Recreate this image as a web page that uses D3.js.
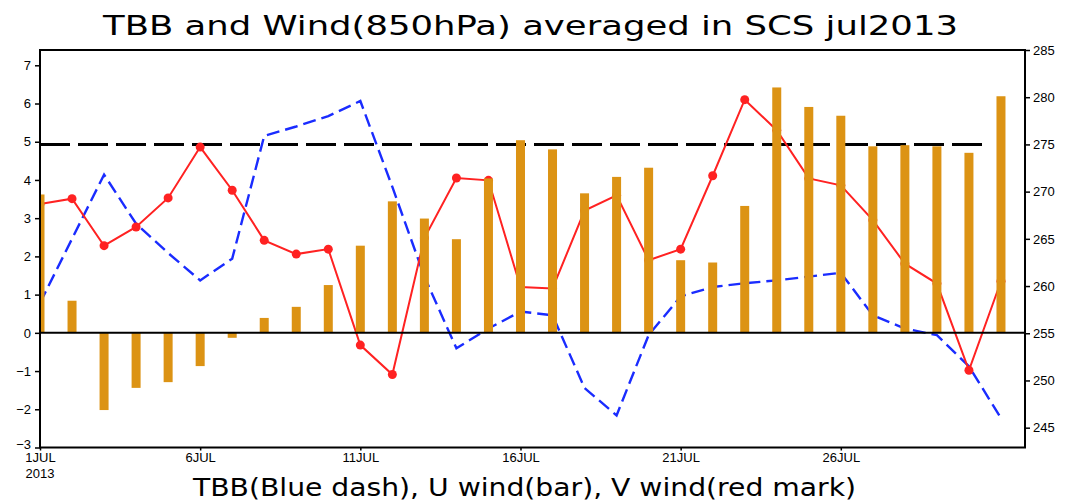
<!DOCTYPE html>
<html>
<head>
<meta charset="utf-8">
<script src="https://cdn.jsdelivr.net/npm/d3@7"></script>
<style>
  body { margin: 0; background: #fff; }
  svg { display: block; }
  .tick text { font-family: "Liberation Sans", Arial, sans-serif; font-size: 13px; fill: #000; }
  .tick line { stroke: #000; stroke-width: 1.5; }
  .domain { display: none; }
</style>
</head>
<body>
<svg width="1069" height="503"></svg>
<script>
// days of July 2013
var days = [1,2,3,4,5,6,7,8,9,10,11,12,13,14,15,16,17,18,19,20,21,22,23,24,25,26,27,28,29,30,31];
// U wind (bars), m/s, left axis
var uWind = [3.62,0.84,-2.02,-1.44,-1.29,-0.87,-0.13,0.39,0.68,1.25,2.28,3.44,2.99,2.45,4.04,5.04,
             4.80,3.65,4.08,4.32,1.90,1.84,3.32,6.42,5.91,5.68,4.88,4.91,4.88,4.71,6.19];
// V wind (red marks), m/s, left axis
var vWind = [3.37,3.51,2.28,2.77,3.53,4.86,3.73,2.42,2.06,2.19,-0.32,-1.09,2.48,4.05,3.99,1.20,
             1.16,3.20,3.60,1.90,2.19,4.11,6.10,5.30,4.04,3.86,2.95,1.81,1.29,-0.98,1.35];
// TBB (blue dash), K, right axis
var tbb = [258.2,265.0,271.8,266.6,263.5,260.6,262.9,275.9,276.9,278.0,279.6,270.5,261.0,253.4,255.5,
           257.3,256.9,249.2,246.3,254.8,258.9,259.9,260.3,260.6,261.0,261.4,256.9,255.5,254.8,251.5,246.0];
var tbbLimit = 275;

var leftTicks = [-3,-2,-1,0,1,2,3,4,5,6,7];
var rightTicks = [245,250,255,260,265,270,275,280,285];
var xTicks = [1,6,11,16,21,26];
var xTickLabels = ["1JUL","6JUL","11JUL","16JUL","21JUL","26JUL"];

var svg = d3.select("svg");
var pLeft = 40, pRight = 1025, pTop = 50, pBottom = 447.5;

var x = d3.scaleLinear().domain([1, 31.75]).range([pLeft, pRight]);
var yL = d3.scaleLinear().domain([-3, 7.4]).range([pBottom, pTop]);
var yR = d3.scaleLinear().domain([242.9, 285]).range([pBottom, pTop]);

svg.append("clipPath").attr("id", "plot")
  .append("rect").attr("x", pLeft).attr("y", pTop)
  .attr("width", pRight - pLeft).attr("height", pBottom - pTop);

var g = svg.append("g").attr("clip-path", "url(#plot)");

// threshold line
g.append("line")
  .attr("x1", pLeft).attr("x2", 987)
  .attr("y1", yR(tbbLimit)).attr("y2", yR(tbbLimit))
  .attr("stroke", "#000").attr("stroke-width", 3)
  .attr("stroke-dasharray", "30,8");

// TBB dashed blue
var tbbLine = d3.line()
  .x(function(d, i) { return x(days[i]); })
  .y(function(d) { return yR(d); });
g.append("path").datum(tbb)
  .attr("d", tbbLine)
  .attr("fill", "none").attr("stroke", "#1a2cff")
  .attr("stroke-width", 2.4).attr("stroke-dasharray", "13,6");

// V wind red line + marks
var vLine = d3.line()
  .x(function(d, i) { return x(days[i]); })
  .y(function(d) { return yL(d); });
g.append("path").datum(vWind)
  .attr("d", vLine)
  .attr("fill", "none").attr("stroke", "#ff2222").attr("stroke-width", 2);
g.selectAll(".vmark").data(vWind).enter().append("circle")
  .attr("class", "vmark")
  .attr("cx", function(d, i) { return x(days[i]); })
  .attr("cy", function(d) { return yL(d); })
  .attr("r", 4.5).attr("fill", "#ff2222");

// U wind bars
var bw = 9;
g.selectAll(".ubar").data(uWind).enter().append("rect")
  .attr("class", "ubar")
  .attr("x", function(d, i) { return x(days[i]) - bw / 2; })
  .attr("y", function(d) { return d >= 0 ? yL(d) : yL(0); })
  .attr("width", bw)
  .attr("height", function(d) { return Math.abs(yL(d) - yL(0)); })
  .attr("fill", "#dc9314");

// zero line
svg.append("line")
  .attr("x1", pLeft).attr("x2", pRight)
  .attr("y1", yL(0)).attr("y2", yL(0))
  .attr("stroke", "#000").attr("stroke-width", 2);

// frame
svg.append("rect")
  .attr("x", pLeft).attr("y", pTop)
  .attr("width", pRight - pLeft).attr("height", pBottom - pTop)
  .attr("fill", "none").attr("stroke", "#000").attr("stroke-width", 2);

// axes
var ya = svg.append("g").attr("transform", "translate(" + pLeft + ",0)")
  .call(d3.axisLeft(yL).tickValues(leftTicks).tickSize(5).tickPadding(4).tickFormat(d3.format("d")));
// lift the bottom label a bit so it clears 1JUL
ya.selectAll(".tick text").filter(function(d) { return d === -3; }).attr("dy", "0.05em");

svg.append("g").attr("transform", "translate(" + pRight + ",0)")
  .call(d3.axisRight(yR).tickValues(rightTicks).tickSize(5).tickPadding(3).tickFormat(d3.format("d")));

var xa = svg.append("g").attr("transform", "translate(0," + pBottom + ")")
  .call(d3.axisBottom(x).tickValues(xTicks).tickSize(3).tickPadding(2)
    .tickFormat(function(d, i) { return xTickLabels[i]; }));
xa.selectAll(".tick text").attr("dy", "0.75em");

svg.append("text")
  .attr("x", x(1)).attr("y", 478)
  .attr("text-anchor", "middle")
  .style("font-family", "Liberation Sans, Arial, sans-serif").style("font-size", "13px")
  .text("2013");

// titles
svg.append("text")
  .attr("x", 103).attr("y", 35)
  .attr("textLength", 855).attr("lengthAdjust", "spacingAndGlyphs")
  .style("font-family", "DejaVu Sans, sans-serif").style("font-size", "26px")
  .text("TBB and Wind(850hPa) averaged in SCS jul2013");

svg.append("text")
  .attr("x", 193).attr("y", 496)
  .attr("textLength", 663).attr("lengthAdjust", "spacingAndGlyphs")
  .style("font-family", "DejaVu Sans, sans-serif").style("font-size", "24px")
  .text("TBB(Blue dash), U wind(bar), V wind(red mark)");
</script>
</body>
</html>
